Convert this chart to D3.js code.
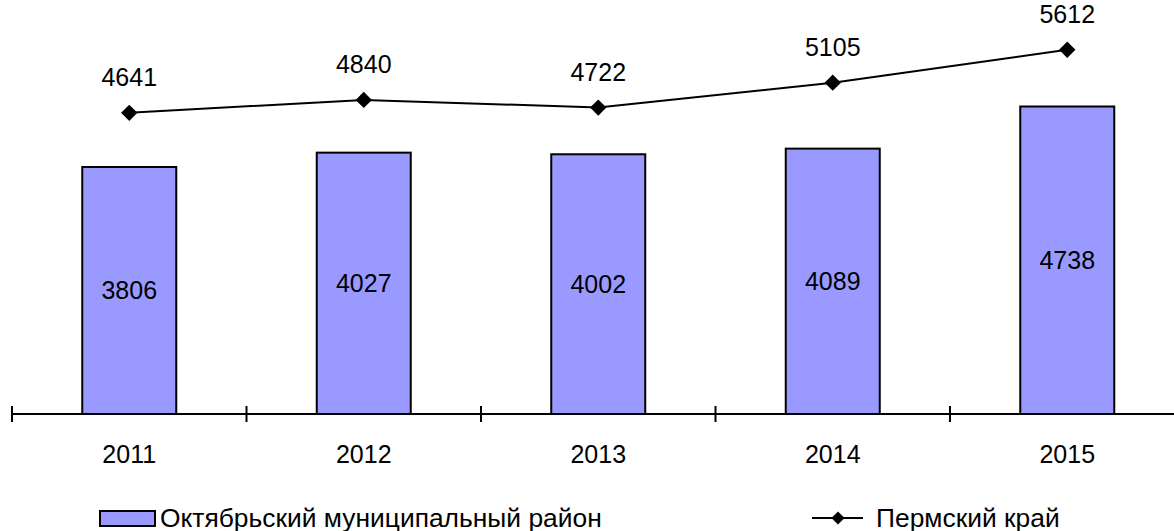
<!DOCTYPE html>
<html>
<head>
<meta charset="utf-8">
<script src="https://cdn.jsdelivr.net/npm/d3@7"></script>
<style>
  body { margin: 0; background: #fff; }
  text { font-family: Arial, "Liberation Sans", sans-serif; fill: #000; }
</style>
</head>
<body>
<div id="chart"></div>
<script>
var years = ["2011", "2012", "2013", "2014", "2015"];
var districtValues = [3806, 4027, 4002, 4089, 4738];
var regionValues = [4641, 4840, 4722, 5105, 5612];
var seriesNames = ["Октябрьский муниципальный район", "Пермский край"];

var width = 1174, height = 531;

var svg = d3.select("#chart")
  .append("svg")
    .attr("width", width)
    .attr("height", height);

var x = d3.scaleBand()
  .domain(years)
  .range([12, 1184.5])
  .paddingInner(0)
  .paddingOuter(0);

var y = d3.scaleLinear()
  .domain([0, 6000])
  .range([414, 414 - 0.0649 * 6000]);

var barW = 94;

// bars
svg.append("g")
  .selectAll("rect")
  .data(districtValues)
  .enter()
  .append("rect")
    .attr("x", function(d, i) { return x(years[i]) + x.bandwidth() / 2 - barW / 2; })
    .attr("y", function(d) { return y(d); })
    .attr("width", barW)
    .attr("height", function(d) { return y(0) - y(d); })
    .style("fill", "#9999ff")
    .style("stroke", "#000")
    .style("stroke-width", 2);

// bar labels
svg.append("g")
  .selectAll("text")
  .data(districtValues)
  .enter()
  .append("text")
    .attr("x", function(d, i) { return x(years[i]) + x.bandwidth() / 2; })
    .attr("y", function(d) { return (y(d) + y(0)) / 2 + 9; })
    .attr("text-anchor", "middle")
    .style("font-size", "25px")
    .text(function(d) { return d; });

// x axis
var axis = svg.append("g")
  .attr("transform", "translate(0,414)")
  .call(d3.axisBottom(x).tickSize(0).tickFormat(""));
axis.select(".domain").remove();
axis.append("line")
  .attr("x1", 12).attr("x2", width)
  .attr("stroke", "#000").attr("stroke-width", 2);
axis.selectAll(".sep")
  .data(years)
  .enter()
  .append("line")
    .attr("x1", function(d) { return x(d); })
    .attr("x2", function(d) { return x(d); })
    .attr("y1", -8).attr("y2", 8)
    .attr("stroke", "#000").attr("stroke-width", 2);
axis.selectAll(".yr")
  .data(years)
  .enter()
  .append("text")
    .attr("x", function(d) { return x(d) + x.bandwidth() / 2; })
    .attr("y", 49)
    .attr("text-anchor", "middle")
    .style("font-size", "25px")
    .text(function(d) { return d; });

// line
var cx = function(d, i) { return x(years[i]) + x.bandwidth() / 2; };
var line = d3.line()
  .x(cx)
  .y(function(d) { return y(d); });

svg.append("path")
  .datum(regionValues)
  .attr("d", line)
  .style("fill", "none")
  .style("stroke", "#000")
  .style("stroke-width", 2);

var diamond = d3.symbol().type(d3.symbolDiamond2).size(170);
svg.append("g")
  .selectAll("path")
  .data(regionValues)
  .enter()
  .append("path")
    .attr("d", diamond)
    .attr("transform", function(d, i) { return "translate(" + cx(d, i) + "," + y(d) + ")"; })
    .style("fill", "#000");

svg.append("g")
  .selectAll("text")
  .data(regionValues)
  .enter()
  .append("text")
    .attr("x", cx)
    .attr("y", function(d) { return y(d) - 27; })
    .attr("text-anchor", "middle")
    .style("font-size", "25px")
    .text(function(d) { return d; });

// legend
var lg = svg.append("g");
lg.append("rect")
  .attr("x", 100).attr("y", 511).attr("width", 55).attr("height", 15)
  .style("fill", "#9999ff").style("stroke", "#000").style("stroke-width", 2);
lg.append("text")
  .attr("x", 160).attr("y", 527)
  .style("font-size", "26.4px")
  .text(seriesNames[0]);
lg.append("line")
  .attr("x1", 812).attr("x2", 863).attr("y1", 518).attr("y2", 518)
  .attr("stroke", "#000").attr("stroke-width", 2);
lg.append("path")
  .attr("d", d3.symbol().type(d3.symbolDiamond2).size(110))
  .attr("transform", "translate(838,518)")
  .style("fill", "#000");
lg.append("text")
  .attr("x", 876).attr("y", 527)
  .style("font-size", "26.4px")
  .text(seriesNames[1]);
</script>
</body>
</html>
